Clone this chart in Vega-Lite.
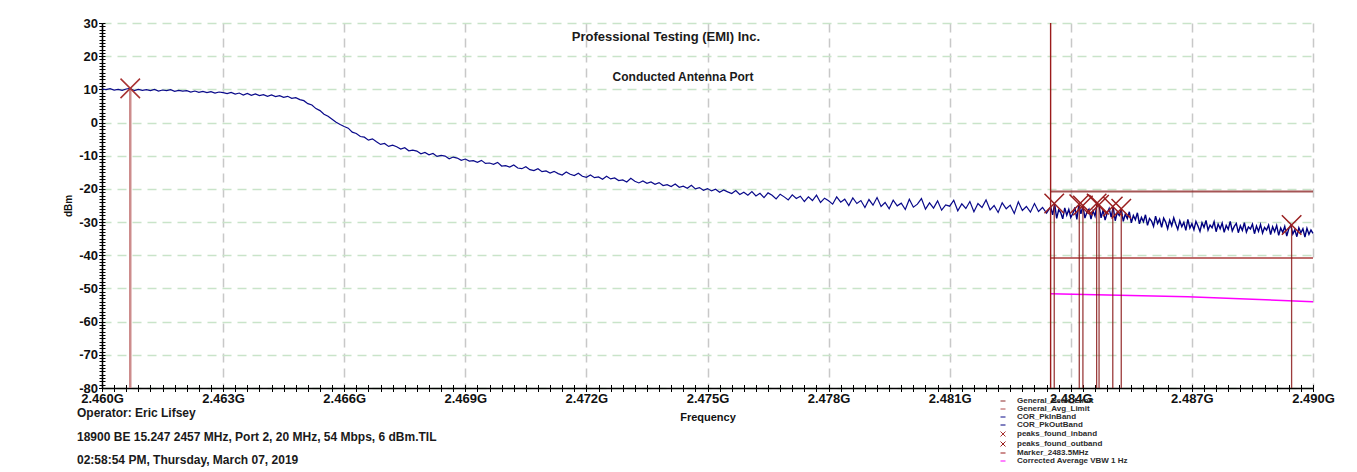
{
  "$schema": "https://vega.github.io/schema/vega-lite/v6.json",
  "width": 1211,
  "height": 365,
  "autosize": "none",
  "padding": {"left": 102, "top": 23, "right": 44, "bottom": 84},
  "background": "#ffffff",
  "config": {
    "view": {"stroke": null},
    "font": "Liberation Sans",
    "legend": {
      "orient": "none", "legendX": 897, "legendY": 374,
      "labelFont": "Liberation Sans", "labelFontSize": 8, "labelFontWeight": "bold", "labelColor": "#2b2b2b",
      "rowPadding": 0, "symbolSize": 25, "symbolStrokeWidth": 1, "labelOffset": 10, "padding": 0, "labelLimit": 300
    }
  },
  "datasets": {
    "inband": [
      {"f":2.4600,"v":10.1,"s":"COR_PkInBand"},{"f":2.4601,"v":9.9,"s":"COR_PkInBand"},{"f":2.4602,"v":10.2,"s":"COR_PkInBand"},{"f":2.4603,"v":9.8,"s":"COR_PkInBand"},{"f":2.4604,"v":10.0,"s":"COR_PkInBand"},
      {"f":2.4605,"v":9.7,"s":"COR_PkInBand"},{"f":2.4606,"v":10.1,"s":"COR_PkInBand"},{"f":2.4607,"v":10.3,"s":"COR_PkInBand"},{"f":2.4608,"v":9.6,"s":"COR_PkInBand"},{"f":2.4609,"v":10.0,"s":"COR_PkInBand"},
      {"f":2.4610,"v":9.7,"s":"COR_PkInBand"},{"f":2.4611,"v":9.9,"s":"COR_PkInBand"},{"f":2.4612,"v":9.6,"s":"COR_PkInBand"},{"f":2.4613,"v":10.0,"s":"COR_PkInBand"},{"f":2.4614,"v":9.5,"s":"COR_PkInBand"},
      {"f":2.4615,"v":9.8,"s":"COR_PkInBand"},{"f":2.4616,"v":9.6,"s":"COR_PkInBand"},{"f":2.4617,"v":9.9,"s":"COR_PkInBand"},{"f":2.4618,"v":9.4,"s":"COR_PkInBand"},{"f":2.4619,"v":9.7,"s":"COR_PkInBand"},
      {"f":2.4620,"v":9.5,"s":"COR_PkInBand"},{"f":2.4621,"v":9.6,"s":"COR_PkInBand"},{"f":2.4622,"v":9.2,"s":"COR_PkInBand"},{"f":2.4623,"v":9.5,"s":"COR_PkInBand"},{"f":2.4624,"v":9.1,"s":"COR_PkInBand"},
      {"f":2.4625,"v":9.4,"s":"COR_PkInBand"},{"f":2.4626,"v":9.0,"s":"COR_PkInBand"},{"f":2.4627,"v":9.3,"s":"COR_PkInBand"},{"f":2.4628,"v":8.9,"s":"COR_PkInBand"},{"f":2.4629,"v":9.2,"s":"COR_PkInBand"},
      {"f":2.4630,"v":9.0,"s":"COR_PkInBand"},{"f":2.4631,"v":8.7,"s":"COR_PkInBand"},{"f":2.4632,"v":9.1,"s":"COR_PkInBand"},{"f":2.4633,"v":8.6,"s":"COR_PkInBand"},{"f":2.4634,"v":8.9,"s":"COR_PkInBand"},
      {"f":2.4635,"v":8.3,"s":"COR_PkInBand"},{"f":2.4636,"v":8.8,"s":"COR_PkInBand"},{"f":2.4637,"v":8.2,"s":"COR_PkInBand"},{"f":2.4638,"v":8.6,"s":"COR_PkInBand"},{"f":2.4639,"v":8.1,"s":"COR_PkInBand"},
      {"f":2.4640,"v":8.4,"s":"COR_PkInBand"},{"f":2.4641,"v":7.9,"s":"COR_PkInBand"},{"f":2.4642,"v":8.3,"s":"COR_PkInBand"},{"f":2.4643,"v":7.8,"s":"COR_PkInBand"},{"f":2.4644,"v":8.1,"s":"COR_PkInBand"},
      {"f":2.4645,"v":7.6,"s":"COR_PkInBand"},{"f":2.4646,"v":7.9,"s":"COR_PkInBand"},{"f":2.4647,"v":7.3,"s":"COR_PkInBand"},{"f":2.4648,"v":7.5,"s":"COR_PkInBand"},{"f":2.4649,"v":6.9,"s":"COR_PkInBand"},
      {"f":2.4650,"v":6.6,"s":"COR_PkInBand"},{"f":2.4651,"v":5.7,"s":"COR_PkInBand"},{"f":2.4652,"v":5.3,"s":"COR_PkInBand"},{"f":2.4653,"v":4.2,"s":"COR_PkInBand"},{"f":2.4654,"v":3.6,"s":"COR_PkInBand"},
      {"f":2.4655,"v":2.5,"s":"COR_PkInBand"},{"f":2.4656,"v":1.9,"s":"COR_PkInBand"},{"f":2.4657,"v":1.0,"s":"COR_PkInBand"},{"f":2.4658,"v":0.1,"s":"COR_PkInBand"},{"f":2.4659,"v":-0.6,"s":"COR_PkInBand"},
      {"f":2.4660,"v":-1.2,"s":"COR_PkInBand"},{"f":2.4661,"v":-1.7,"s":"COR_PkInBand"},{"f":2.4662,"v":-2.9,"s":"COR_PkInBand"},{"f":2.4663,"v":-3.3,"s":"COR_PkInBand"},{"f":2.4664,"v":-4.2,"s":"COR_PkInBand"},
      {"f":2.4665,"v":-4.4,"s":"COR_PkInBand"},{"f":2.4666,"v":-5.3,"s":"COR_PkInBand"},{"f":2.4667,"v":-4.9,"s":"COR_PkInBand"},{"f":2.4668,"v":-5.8,"s":"COR_PkInBand"},{"f":2.4669,"v":-6.6,"s":"COR_PkInBand"},
      {"f":2.4670,"v":-6.3,"s":"COR_PkInBand"},{"f":2.4671,"v":-7.2,"s":"COR_PkInBand"},{"f":2.4672,"v":-6.8,"s":"COR_PkInBand"},{"f":2.4673,"v":-7.3,"s":"COR_PkInBand"},{"f":2.4674,"v":-8.0,"s":"COR_PkInBand"},
      {"f":2.4675,"v":-7.6,"s":"COR_PkInBand"},{"f":2.4676,"v":-8.5,"s":"COR_PkInBand"},{"f":2.4677,"v":-8.3,"s":"COR_PkInBand"},{"f":2.4678,"v":-8.6,"s":"COR_PkInBand"},{"f":2.4679,"v":-9.4,"s":"COR_PkInBand"},
      {"f":2.4680,"v":-9.0,"s":"COR_PkInBand"},{"f":2.4681,"v":-9.7,"s":"COR_PkInBand"},{"f":2.4682,"v":-9.3,"s":"COR_PkInBand"},{"f":2.4683,"v":-10.2,"s":"COR_PkInBand"},{"f":2.4684,"v":-9.9,"s":"COR_PkInBand"},
      {"f":2.4685,"v":-10.1,"s":"COR_PkInBand"},{"f":2.4686,"v":-10.9,"s":"COR_PkInBand"},{"f":2.4687,"v":-10.4,"s":"COR_PkInBand"},{"f":2.4688,"v":-10.7,"s":"COR_PkInBand"},{"f":2.4689,"v":-11.4,"s":"COR_PkInBand"},
      {"f":2.4690,"v":-11.0,"s":"COR_PkInBand"},{"f":2.4691,"v":-11.6,"s":"COR_PkInBand"},{"f":2.4692,"v":-11.5,"s":"COR_PkInBand"},{"f":2.4693,"v":-12.0,"s":"COR_PkInBand"},{"f":2.4694,"v":-11.4,"s":"COR_PkInBand"},
      {"f":2.4695,"v":-12.3,"s":"COR_PkInBand"},{"f":2.4696,"v":-12.2,"s":"COR_PkInBand"},{"f":2.4697,"v":-12.6,"s":"COR_PkInBand"},{"f":2.4698,"v":-12.0,"s":"COR_PkInBand"},{"f":2.4699,"v":-13.1,"s":"COR_PkInBand"},
      {"f":2.4700,"v":-13.0,"s":"COR_PkInBand"},{"f":2.4701,"v":-13.4,"s":"COR_PkInBand"},{"f":2.4702,"v":-12.8,"s":"COR_PkInBand"},{"f":2.4703,"v":-13.7,"s":"COR_PkInBand"},{"f":2.4704,"v":-13.9,"s":"COR_PkInBand"},
      {"f":2.4705,"v":-13.3,"s":"COR_PkInBand"},{"f":2.4706,"v":-14.2,"s":"COR_PkInBand"},{"f":2.4707,"v":-14.5,"s":"COR_PkInBand"},{"f":2.4708,"v":-13.9,"s":"COR_PkInBand"},{"f":2.4709,"v":-14.8,"s":"COR_PkInBand"},
      {"f":2.4710,"v":-14.6,"s":"COR_PkInBand"},{"f":2.4711,"v":-15.2,"s":"COR_PkInBand"},{"f":2.4712,"v":-14.7,"s":"COR_PkInBand"},{"f":2.4713,"v":-15.4,"s":"COR_PkInBand"},{"f":2.4714,"v":-15.8,"s":"COR_PkInBand"},
      {"f":2.4715,"v":-14.9,"s":"COR_PkInBand"},{"f":2.4716,"v":-15.6,"s":"COR_PkInBand"},{"f":2.4717,"v":-16.0,"s":"COR_PkInBand"},{"f":2.4718,"v":-15.3,"s":"COR_PkInBand"},{"f":2.4719,"v":-16.2,"s":"COR_PkInBand"},
      {"f":2.4720,"v":-16.5,"s":"COR_PkInBand"},{"f":2.4721,"v":-15.8,"s":"COR_PkInBand"},{"f":2.4722,"v":-16.6,"s":"COR_PkInBand"},{"f":2.4723,"v":-16.4,"s":"COR_PkInBand"},{"f":2.4724,"v":-17.1,"s":"COR_PkInBand"},
      {"f":2.4725,"v":-16.2,"s":"COR_PkInBand"},{"f":2.4726,"v":-17.0,"s":"COR_PkInBand"},{"f":2.4727,"v":-16.7,"s":"COR_PkInBand"},{"f":2.4728,"v":-17.5,"s":"COR_PkInBand"},{"f":2.4729,"v":-17.3,"s":"COR_PkInBand"},
      {"f":2.4730,"v":-17.9,"s":"COR_PkInBand"},{"f":2.4731,"v":-16.8,"s":"COR_PkInBand"},{"f":2.4732,"v":-17.7,"s":"COR_PkInBand"},{"f":2.4733,"v":-18.2,"s":"COR_PkInBand"},{"f":2.4734,"v":-17.6,"s":"COR_PkInBand"},
      {"f":2.4735,"v":-18.3,"s":"COR_PkInBand"},{"f":2.4736,"v":-17.9,"s":"COR_PkInBand"},{"f":2.4737,"v":-18.6,"s":"COR_PkInBand"},{"f":2.4738,"v":-18.1,"s":"COR_PkInBand"},{"f":2.4739,"v":-19.0,"s":"COR_PkInBand"},
      {"f":2.4740,"v":-18.7,"s":"COR_PkInBand"},{"f":2.4741,"v":-19.3,"s":"COR_PkInBand"},{"f":2.4742,"v":-18.5,"s":"COR_PkInBand"},{"f":2.4743,"v":-19.5,"s":"COR_PkInBand"},{"f":2.4744,"v":-19.2,"s":"COR_PkInBand"},
      {"f":2.4745,"v":-19.8,"s":"COR_PkInBand"},{"f":2.4746,"v":-18.9,"s":"COR_PkInBand"},{"f":2.4747,"v":-20.0,"s":"COR_PkInBand"},{"f":2.4748,"v":-19.6,"s":"COR_PkInBand"},{"f":2.4749,"v":-20.4,"s":"COR_PkInBand"},
      {"f":2.4750,"v":-19.9,"s":"COR_PkInBand"},{"f":2.4751,"v":-20.6,"s":"COR_PkInBand"},{"f":2.4752,"v":-20.1,"s":"COR_PkInBand"},{"f":2.4753,"v":-21.0,"s":"COR_PkInBand"},{"f":2.4754,"v":-20.3,"s":"COR_PkInBand"},
      {"f":2.4755,"v":-20.9,"s":"COR_PkInBand"},{"f":2.4756,"v":-21.4,"s":"COR_PkInBand"},{"f":2.4757,"v":-20.5,"s":"COR_PkInBand"},{"f":2.4758,"v":-21.7,"s":"COR_PkInBand"},{"f":2.4759,"v":-21.0,"s":"COR_PkInBand"},
      {"f":2.4760,"v":-21.9,"s":"COR_PkInBand"},{"f":2.4761,"v":-20.8,"s":"COR_PkInBand"},{"f":2.4762,"v":-22.1,"s":"COR_PkInBand"},{"f":2.4763,"v":-21.3,"s":"COR_PkInBand"},{"f":2.4764,"v":-22.6,"s":"COR_PkInBand"},
      {"f":2.4765,"v":-21.2,"s":"COR_PkInBand"},{"f":2.4766,"v":-21.9,"s":"COR_PkInBand"},{"f":2.4767,"v":-23.0,"s":"COR_PkInBand"},{"f":2.4768,"v":-21.6,"s":"COR_PkInBand"},{"f":2.4769,"v":-22.4,"s":"COR_PkInBand"},
      {"f":2.4770,"v":-23.3,"s":"COR_PkInBand"},{"f":2.4771,"v":-21.8,"s":"COR_PkInBand"},{"f":2.4772,"v":-22.9,"s":"COR_PkInBand"},{"f":2.4773,"v":-22.2,"s":"COR_PkInBand"},{"f":2.4774,"v":-23.8,"s":"COR_PkInBand"},
      {"f":2.4775,"v":-22.4,"s":"COR_PkInBand"},{"f":2.4776,"v":-23.5,"s":"COR_PkInBand"},{"f":2.4777,"v":-21.9,"s":"COR_PkInBand"},{"f":2.4778,"v":-24.1,"s":"COR_PkInBand"},{"f":2.4779,"v":-22.8,"s":"COR_PkInBand"},
      {"f":2.4780,"v":-23.6,"s":"COR_PkInBand"},{"f":2.4781,"v":-24.6,"s":"COR_PkInBand"},{"f":2.4782,"v":-22.4,"s":"COR_PkInBand"},{"f":2.4783,"v":-24.0,"s":"COR_PkInBand"},{"f":2.4784,"v":-23.1,"s":"COR_PkInBand"},
      {"f":2.4785,"v":-25.0,"s":"COR_PkInBand"},{"f":2.4786,"v":-22.7,"s":"COR_PkInBand"},{"f":2.4787,"v":-24.4,"s":"COR_PkInBand"},{"f":2.4788,"v":-23.5,"s":"COR_PkInBand"},{"f":2.4789,"v":-25.6,"s":"COR_PkInBand"},
      {"f":2.4790,"v":-23.2,"s":"COR_PkInBand"},{"f":2.4791,"v":-24.9,"s":"COR_PkInBand"},{"f":2.4792,"v":-22.6,"s":"COR_PkInBand"},{"f":2.4793,"v":-25.3,"s":"COR_PkInBand"},{"f":2.4794,"v":-24.1,"s":"COR_PkInBand"},
      {"f":2.4795,"v":-26.0,"s":"COR_PkInBand"},{"f":2.4796,"v":-23.4,"s":"COR_PkInBand"},{"f":2.4797,"v":-25.1,"s":"COR_PkInBand"},{"f":2.4798,"v":-24.3,"s":"COR_PkInBand"},{"f":2.4799,"v":-26.2,"s":"COR_PkInBand"},
      {"f":2.4800,"v":-23.1,"s":"COR_PkInBand"},{"f":2.4801,"v":-25.5,"s":"COR_PkInBand"},{"f":2.4802,"v":-24.6,"s":"COR_PkInBand"},{"f":2.4803,"v":-22.9,"s":"COR_PkInBand"},{"f":2.4804,"v":-26.1,"s":"COR_PkInBand"},
      {"f":2.4805,"v":-24.2,"s":"COR_PkInBand"},{"f":2.4806,"v":-25.8,"s":"COR_PkInBand"},{"f":2.4807,"v":-23.6,"s":"COR_PkInBand"},{"f":2.4808,"v":-26.4,"s":"COR_PkInBand"},{"f":2.4809,"v":-24.8,"s":"COR_PkInBand"},
      {"f":2.4810,"v":-25.2,"s":"COR_PkInBand"},{"f":2.4811,"v":-23.4,"s":"COR_PkInBand"},{"f":2.4812,"v":-26.6,"s":"COR_PkInBand"},{"f":2.4813,"v":-24.5,"s":"COR_PkInBand"},{"f":2.4814,"v":-25.9,"s":"COR_PkInBand"},
      {"f":2.4815,"v":-23.8,"s":"COR_PkInBand"},{"f":2.4816,"v":-26.9,"s":"COR_PkInBand"},{"f":2.4817,"v":-24.4,"s":"COR_PkInBand"},{"f":2.4818,"v":-25.6,"s":"COR_PkInBand"},{"f":2.4819,"v":-23.3,"s":"COR_PkInBand"},
      {"f":2.4820,"v":-26.3,"s":"COR_PkInBand"},{"f":2.4821,"v":-25.0,"s":"COR_PkInBand"},{"f":2.4822,"v":-27.1,"s":"COR_PkInBand"},{"f":2.4823,"v":-24.2,"s":"COR_PkInBand"},{"f":2.4824,"v":-26.0,"s":"COR_PkInBand"},
      {"f":2.4825,"v":-24.9,"s":"COR_PkInBand"},{"f":2.4826,"v":-27.4,"s":"COR_PkInBand"},{"f":2.4827,"v":-23.9,"s":"COR_PkInBand"},{"f":2.4828,"v":-26.5,"s":"COR_PkInBand"},{"f":2.4829,"v":-25.3,"s":"COR_PkInBand"},
      {"f":2.4830,"v":-27.0,"s":"COR_PkInBand"},{"f":2.4831,"v":-24.4,"s":"COR_PkInBand"},{"f":2.4832,"v":-26.8,"s":"COR_PkInBand"},{"f":2.4833,"v":-25.6,"s":"COR_PkInBand"},{"f":2.4834,"v":-27.3,"s":"COR_PkInBand"},
      {"f":2.4835,"v":-25.4,"s":"COR_PkInBand"}
    ],
    "outband": [
      {"f":2.48350,"v":-25.4,"s":"COR_PkOutBand"},{"f":2.48355,"v":-27.8,"s":"COR_PkOutBand"},{"f":2.48360,"v":-24.5,"s":"COR_PkOutBand"},{"f":2.48365,"v":-28.9,"s":"COR_PkOutBand"},{"f":2.48370,"v":-26.3,"s":"COR_PkOutBand"},
      {"f":2.48375,"v":-27.1,"s":"COR_PkOutBand"},{"f":2.48380,"v":-29.0,"s":"COR_PkOutBand"},{"f":2.48385,"v":-25.7,"s":"COR_PkOutBand"},{"f":2.48390,"v":-27.9,"s":"COR_PkOutBand"},{"f":2.48395,"v":-26.2,"s":"COR_PkOutBand"},
      {"f":2.48400,"v":-28.6,"s":"COR_PkOutBand"},{"f":2.48405,"v":-27.4,"s":"COR_PkOutBand"},{"f":2.48410,"v":-25.6,"s":"COR_PkOutBand"},{"f":2.48415,"v":-29.2,"s":"COR_PkOutBand"},{"f":2.48420,"v":-24.7,"s":"COR_PkOutBand"},
      {"f":2.48425,"v":-27.5,"s":"COR_PkOutBand"},{"f":2.48430,"v":-25.1,"s":"COR_PkOutBand"},{"f":2.48435,"v":-28.8,"s":"COR_PkOutBand"},{"f":2.48440,"v":-27.0,"s":"COR_PkOutBand"},{"f":2.48445,"v":-26.1,"s":"COR_PkOutBand"},
      {"f":2.48450,"v":-29.1,"s":"COR_PkOutBand"},{"f":2.48455,"v":-26.6,"s":"COR_PkOutBand"},{"f":2.48460,"v":-28.2,"s":"COR_PkOutBand"},{"f":2.48465,"v":-24.5,"s":"COR_PkOutBand"},{"f":2.48470,"v":-24.9,"s":"COR_PkOutBand"},
      {"f":2.48475,"v":-28.7,"s":"COR_PkOutBand"},{"f":2.48480,"v":-26.4,"s":"COR_PkOutBand"},{"f":2.48485,"v":-29.4,"s":"COR_PkOutBand"},{"f":2.48490,"v":-27.3,"s":"COR_PkOutBand"},{"f":2.48495,"v":-25.9,"s":"COR_PkOutBand"},
      {"f":2.48500,"v":-28.5,"s":"COR_PkOutBand"},{"f":2.48505,"v":-25.4,"s":"COR_PkOutBand"},{"f":2.48510,"v":-29.6,"s":"COR_PkOutBand"},{"f":2.48515,"v":-27.1,"s":"COR_PkOutBand"},{"f":2.48520,"v":-28.0,"s":"COR_PkOutBand"},
      {"f":2.48525,"v":-26.1,"s":"COR_PkOutBand"},{"f":2.48530,"v":-29.8,"s":"COR_PkOutBand"},{"f":2.48535,"v":-27.6,"s":"COR_PkOutBand"},{"f":2.48540,"v":-28.9,"s":"COR_PkOutBand"},{"f":2.48545,"v":-26.9,"s":"COR_PkOutBand"},
      {"f":2.48550,"v":-30.2,"s":"COR_PkOutBand"},{"f":2.48555,"v":-28.0,"s":"COR_PkOutBand"},{"f":2.48560,"v":-29.3,"s":"COR_PkOutBand"},{"f":2.48565,"v":-27.2,"s":"COR_PkOutBand"},{"f":2.48570,"v":-30.5,"s":"COR_PkOutBand"},
      {"f":2.48575,"v":-28.6,"s":"COR_PkOutBand"},{"f":2.48580,"v":-29.9,"s":"COR_PkOutBand"},{"f":2.48585,"v":-27.8,"s":"COR_PkOutBand"},{"f":2.48590,"v":-31.0,"s":"COR_PkOutBand"},{"f":2.48595,"v":-28.9,"s":"COR_PkOutBand"},
      {"f":2.48600,"v":-29.7,"s":"COR_PkOutBand"},{"f":2.48605,"v":-31.3,"s":"COR_PkOutBand"},{"f":2.48610,"v":-28.2,"s":"COR_PkOutBand"},{"f":2.48615,"v":-30.4,"s":"COR_PkOutBand"},{"f":2.48620,"v":-29.1,"s":"COR_PkOutBand"},
      {"f":2.48625,"v":-31.6,"s":"COR_PkOutBand"},{"f":2.48630,"v":-28.8,"s":"COR_PkOutBand"},{"f":2.48635,"v":-30.0,"s":"COR_PkOutBand"},{"f":2.48640,"v":-32.0,"s":"COR_PkOutBand"},{"f":2.48645,"v":-29.4,"s":"COR_PkOutBand"},
      {"f":2.48650,"v":-31.1,"s":"COR_PkOutBand"},{"f":2.48655,"v":-28.7,"s":"COR_PkOutBand"},{"f":2.48660,"v":-30.6,"s":"COR_PkOutBand"},{"f":2.48665,"v":-32.2,"s":"COR_PkOutBand"},{"f":2.48670,"v":-29.6,"s":"COR_PkOutBand"},
      {"f":2.48675,"v":-31.4,"s":"COR_PkOutBand"},{"f":2.48680,"v":-30.1,"s":"COR_PkOutBand"},{"f":2.48685,"v":-32.5,"s":"COR_PkOutBand"},{"f":2.48690,"v":-29.2,"s":"COR_PkOutBand"},{"f":2.48695,"v":-31.8,"s":"COR_PkOutBand"},
      {"f":2.48700,"v":-30.5,"s":"COR_PkOutBand"},{"f":2.48705,"v":-32.3,"s":"COR_PkOutBand"},{"f":2.48710,"v":-29.8,"s":"COR_PkOutBand"},{"f":2.48715,"v":-31.2,"s":"COR_PkOutBand"},{"f":2.48720,"v":-32.8,"s":"COR_PkOutBand"},
      {"f":2.48725,"v":-30.2,"s":"COR_PkOutBand"},{"f":2.48730,"v":-31.6,"s":"COR_PkOutBand"},{"f":2.48735,"v":-29.5,"s":"COR_PkOutBand"},{"f":2.48740,"v":-32.4,"s":"COR_PkOutBand"},{"f":2.48745,"v":-30.9,"s":"COR_PkOutBand"},
      {"f":2.48750,"v":-31.7,"s":"COR_PkOutBand"},{"f":2.48755,"v":-29.9,"s":"COR_PkOutBand"},{"f":2.48760,"v":-32.9,"s":"COR_PkOutBand"},{"f":2.48765,"v":-30.6,"s":"COR_PkOutBand"},{"f":2.48770,"v":-32.0,"s":"COR_PkOutBand"},
      {"f":2.48775,"v":-30.3,"s":"COR_PkOutBand"},{"f":2.48780,"v":-33.1,"s":"COR_PkOutBand"},{"f":2.48785,"v":-31.0,"s":"COR_PkOutBand"},{"f":2.48790,"v":-32.2,"s":"COR_PkOutBand"},{"f":2.48795,"v":-29.8,"s":"COR_PkOutBand"},
      {"f":2.48800,"v":-32.7,"s":"COR_PkOutBand"},{"f":2.48805,"v":-31.3,"s":"COR_PkOutBand"},{"f":2.48810,"v":-30.4,"s":"COR_PkOutBand"},{"f":2.48815,"v":-33.2,"s":"COR_PkOutBand"},{"f":2.48820,"v":-31.1,"s":"COR_PkOutBand"},
      {"f":2.48825,"v":-32.5,"s":"COR_PkOutBand"},{"f":2.48830,"v":-30.2,"s":"COR_PkOutBand"},{"f":2.48835,"v":-33.0,"s":"COR_PkOutBand"},{"f":2.48840,"v":-31.5,"s":"COR_PkOutBand"},{"f":2.48845,"v":-32.1,"s":"COR_PkOutBand"},
      {"f":2.48850,"v":-30.6,"s":"COR_PkOutBand"},{"f":2.48855,"v":-33.5,"s":"COR_PkOutBand"},{"f":2.48860,"v":-31.2,"s":"COR_PkOutBand"},{"f":2.48865,"v":-32.8,"s":"COR_PkOutBand"},{"f":2.48870,"v":-30.7,"s":"COR_PkOutBand"},
      {"f":2.48875,"v":-33.3,"s":"COR_PkOutBand"},{"f":2.48880,"v":-31.6,"s":"COR_PkOutBand"},{"f":2.48885,"v":-32.4,"s":"COR_PkOutBand"},{"f":2.48890,"v":-30.9,"s":"COR_PkOutBand"},{"f":2.48895,"v":-33.8,"s":"COR_PkOutBand"},
      {"f":2.48900,"v":-31.4,"s":"COR_PkOutBand"},{"f":2.48905,"v":-32.9,"s":"COR_PkOutBand"},{"f":2.48910,"v":-31.0,"s":"COR_PkOutBand"},{"f":2.48915,"v":-34.0,"s":"COR_PkOutBand"},{"f":2.48920,"v":-31.8,"s":"COR_PkOutBand"},
      {"f":2.48925,"v":-33.1,"s":"COR_PkOutBand"},{"f":2.48930,"v":-31.3,"s":"COR_PkOutBand"},{"f":2.48935,"v":-34.2,"s":"COR_PkOutBand"},{"f":2.48940,"v":-32.0,"s":"COR_PkOutBand"},{"f":2.48945,"v":-30.9,"s":"COR_PkOutBand"},
      {"f":2.48950,"v":-33.6,"s":"COR_PkOutBand"},{"f":2.48955,"v":-32.3,"s":"COR_PkOutBand"},{"f":2.48960,"v":-34.4,"s":"COR_PkOutBand"},{"f":2.48965,"v":-31.7,"s":"COR_PkOutBand"},{"f":2.48970,"v":-33.2,"s":"COR_PkOutBand"},
      {"f":2.48975,"v":-32.0,"s":"COR_PkOutBand"},{"f":2.48980,"v":-34.5,"s":"COR_PkOutBand"},{"f":2.48985,"v":-31.9,"s":"COR_PkOutBand"},{"f":2.48990,"v":-33.7,"s":"COR_PkOutBand"},{"f":2.48995,"v":-32.4,"s":"COR_PkOutBand"},
      {"f":2.49000,"v":-33.4,"s":"COR_PkOutBand"}
    ],
    "limits": [
      {"f":2.4835,"v":-20.8,"s":"General_Peak_Limit"},{"f":2.49,"v":-20.8,"s":"General_Peak_Limit"},
      {"f":2.4835,"v":-40.8,"s":"General_Avg_Limit"},{"f":2.49,"v":-40.8,"s":"General_Avg_Limit"}
    ],
    "avg": [
      {"f":2.4835,"v":-51.6,"s":"Corrected Average VBW 1 Hz"},{"f":2.4869,"v":-52.5,"s":"Corrected Average VBW 1 Hz"},{"f":2.49,"v":-54.0,"s":"Corrected Average VBW 1 Hz"}
    ],
    "marker": [{"f":2.4835,"s":"Marker_2483.5MHz"}],
    "peaks": [
      {"f":2.4607,"v":10.3,"s":"peaks_found_inband"},
      {"f":2.48359,"v":-24.4,"s":"peaks_found_outband"},
      {"f":2.48421,"v":-24.6,"s":"peaks_found_outband"},
      {"f":2.4843,"v":-25.0,"s":"peaks_found_outband"},
      {"f":2.48464,"v":-24.4,"s":"peaks_found_outband"},
      {"f":2.4847,"v":-24.8,"s":"peaks_found_outband"},
      {"f":2.48504,"v":-25.3,"s":"peaks_found_outband"},
      {"f":2.48525,"v":-26.0,"s":"peaks_found_outband"},
      {"f":2.48947,"v":-30.9,"s":"peaks_found_outband"}
    ]
  },
  "layer": [
    {
      "data": {"name": "inband"},
      "mark": {"type": "line", "strokeWidth": 1.2},
      "encoding": {
        "x": {"field": "f", "type": "quantitative",
          "scale": {"domain": [2.46, 2.49], "nice": false, "zero": false},
          "axis": {"orient": "bottom", "values": [2.46,2.463,2.466,2.469,2.472,2.475,2.478,2.481,2.484,2.487,2.49],
            "labelExpr": "format(datum.value, '.3f') + 'G'", "labelFlush": false, "labelOverlap": false,
            "labelFont": "Liberation Sans", "labelFontSize": 13, "labelFontWeight": "bold", "labelColor": "#111111", "labelPadding": 1,
            "tickSize": 3.5, "tickColor": "#000000", "domainColor": "#000000", "domainWidth": 1.5,
            "grid": true, "gridColor": "#c8c8c8", "gridDash": [9, 6], "gridWidth": 1.5,
            "title": "Frequency", "titleFont": "Liberation Sans", "titleFontSize": 11, "titleFontWeight": "bold", "titleColor": "#111111", "titlePadding": 6}},
        "y": {"field": "v", "type": "quantitative",
          "scale": {"domain": [-80, 30], "nice": false, "zero": false},
          "axis": {"orient": "left", "values": [-80,-70,-60,-50,-40,-30,-20,-10,0,10,20,30],
            "labelExpr": "'' + datum.value", "labelOverlap": false,
            "labelFont": "Liberation Sans", "labelFontSize": 13, "labelFontWeight": "bold", "labelColor": "#111111", "labelPadding": 1,
            "tickSize": 3.5, "tickColor": "#000000", "domainColor": "#000000", "domainWidth": 1.5,
            "grid": true, "gridColor": "#c9e4c9", "gridDash": [9, 6], "gridWidth": 1.5,
            "title": "dBm", "titleFont": "Liberation Sans", "titleFontSize": 10, "titleFontWeight": "bold", "titleColor": "#111111", "titlePadding": 5}},
        "color": {"field": "s", "type": "nominal",
          "scale": {"domain": ["General_Peak_Limit","General_Avg_Limit","COR_PkInBand","COR_PkOutBand","peaks_found_inband","peaks_found_outband","Marker_2483.5MHz","Corrected Average VBW 1 Hz"],
                    "range": ["#8e2a2a","#b04a4a","#0a0a8a","#000080","#a83232","#9a1f1f","#9b1b1b","#ff00ff"]},
          "legend": {"title": null, "encode": {"symbols": {"update": {"stroke": {"signal": "datum.value === 'COR_PkInBand' ? '#8a8ad6' : scale('color', datum.value)"}, "fill": {"value": "transparent"}, "strokeWidth": {"value": 1}}}}}}
      }
    },
    {
      "data": {"name": "outband"},
      "mark": {"type": "line", "strokeWidth": 1.4},
      "encoding": {
        "x": {"field": "f", "type": "quantitative", "axis": null},
        "y": {"field": "v", "type": "quantitative", "axis": null},
        "color": {"field": "s", "type": "nominal",
          "scale": {"domain": ["General_Peak_Limit","General_Avg_Limit","COR_PkInBand","COR_PkOutBand","peaks_found_inband","peaks_found_outband","Marker_2483.5MHz","Corrected Average VBW 1 Hz"]},
          "legend": {"title": null}}
      }
    },
    {
      "data": {"name": "limits"},
      "mark": {"type": "line", "strokeWidth": 2, "opacity": 0.8},
      "encoding": {
        "x": {"field": "f", "type": "quantitative",
          "axis": {"orient": "bottom", "values": [2.46,2.4603,2.4606,2.4609,2.4612,2.4615,2.4618,2.4621,2.4624,2.4627,2.463,2.4633,2.4636,2.4639,2.4642,2.4645,2.4648,2.4651,2.4654,2.4657,2.466,2.4663,2.4666,2.4669,2.4672,2.4675,2.4678,2.4681,2.4684,2.4687,2.469,2.4693,2.4696,2.4699,2.4702,2.4705,2.4708,2.4711,2.4714,2.4717,2.472,2.4723,2.4726,2.4729,2.4732,2.4735,2.4738,2.4741,2.4744,2.4747,2.475,2.4753,2.4756,2.4759,2.4762,2.4765,2.4768,2.4771,2.4774,2.4777,2.478,2.4783,2.4786,2.4789,2.4792,2.4795,2.4798,2.4801,2.4804,2.4807,2.481,2.4813,2.4816,2.4819,2.4822,2.4825,2.4828,2.4831,2.4834,2.4837,2.484,2.4843,2.4846,2.4849,2.4852,2.4855,2.4858,2.4861,2.4864,2.4867,2.487,2.4873,2.4876,2.4879,2.4882,2.4885,2.4888,2.4891,2.4894,2.4897,2.49],
            "tickSize": 3.5, "tickColor": "#000000", "labels": false, "domain": false, "grid": false, "title": null}},
        "y": {"field": "v", "type": "quantitative",
          "axis": {"orient": "left", "tickCount": 110, "tickSize": 3, "tickColor": "#000000", "labels": false, "domain": false, "grid": false, "title": null}},
        "color": {"field": "s", "type": "nominal",
          "scale": {"domain": ["General_Peak_Limit","General_Avg_Limit","COR_PkInBand","COR_PkOutBand","peaks_found_inband","peaks_found_outband","Marker_2483.5MHz","Corrected Average VBW 1 Hz"]},
          "legend": {"title": null}}
      }
    },
    {
      "data": {"name": "avg"},
      "mark": {"type": "line", "strokeWidth": 1.5},
      "encoding": {
        "x": {"field": "f", "type": "quantitative",
          "axis": {"orient": "bottom", "values": [2.46,2.4603,2.4606,2.4609,2.4612,2.4615,2.4618,2.4621,2.4624,2.4627,2.463,2.4633,2.4636,2.4639,2.4642,2.4645,2.4648,2.4651,2.4654,2.4657,2.466,2.4663,2.4666,2.4669,2.4672,2.4675,2.4678,2.4681,2.4684,2.4687,2.469,2.4693,2.4696,2.4699,2.4702,2.4705,2.4708,2.4711,2.4714,2.4717,2.472,2.4723,2.4726,2.4729,2.4732,2.4735,2.4738,2.4741,2.4744,2.4747,2.475,2.4753,2.4756,2.4759,2.4762,2.4765,2.4768,2.4771,2.4774,2.4777,2.478,2.4783,2.4786,2.4789,2.4792,2.4795,2.4798,2.4801,2.4804,2.4807,2.481,2.4813,2.4816,2.4819,2.4822,2.4825,2.4828,2.4831,2.4834,2.4837,2.484,2.4843,2.4846,2.4849,2.4852,2.4855,2.4858,2.4861,2.4864,2.4867,2.487,2.4873,2.4876,2.4879,2.4882,2.4885,2.4888,2.4891,2.4894,2.4897,2.49],
            "tickSize": -3.5, "tickColor": "#000000", "labels": false, "domain": false, "grid": false, "title": null}},
        "y": {"field": "v", "type": "quantitative",
          "axis": {"orient": "left", "tickCount": 110, "tickSize": -3, "tickColor": "#000000", "labels": false, "domain": false, "grid": false, "title": null}},
        "color": {"field": "s", "type": "nominal",
          "scale": {"domain": ["General_Peak_Limit","General_Avg_Limit","COR_PkInBand","COR_PkOutBand","peaks_found_inband","peaks_found_outband","Marker_2483.5MHz","Corrected Average VBW 1 Hz"]},
          "legend": {"title": null}}
      }
    },
    {
      "data": {"name": "marker"},
      "mark": {"type": "rule", "strokeWidth": 1.4},
      "encoding": {
        "x": {"field": "f", "type": "quantitative", "axis": null},
        "color": {"field": "s", "type": "nominal",
          "scale": {"domain": ["General_Peak_Limit","General_Avg_Limit","COR_PkInBand","COR_PkOutBand","peaks_found_inband","peaks_found_outband","Marker_2483.5MHz","Corrected Average VBW 1 Hz"]},
          "legend": {"title": null}}
      }
    },
    {
      "data": {"name": "peaks"},
      "mark": {"type": "rule", "opacity": 0.85},
      "encoding": {
        "x": {"field": "f", "type": "quantitative", "axis": null},
        "y": {"field": "v", "type": "quantitative", "axis": null},
        "y2": {"datum": -80},
        "stroke": {"condition": {"test": "datum.s === 'peaks_found_inband'", "value": "#c47878"}, "value": "#8b1a1a"},
        "strokeWidth": {"condition": {"test": "datum.s === 'peaks_found_inband'", "value": 2.5}, "value": 1.3}
      }
    },
    {
      "data": {"name": "peaks"},
      "mark": {"type": "point", "filled": false, "size": 380, "strokeWidth": 1.5, "opacity": 1},
      "encoding": {
        "x": {"field": "f", "type": "quantitative", "axis": null},
        "y": {"field": "v", "type": "quantitative", "axis": null},
        "color": {"field": "s", "type": "nominal",
          "scale": {"domain": ["General_Peak_Limit","General_Avg_Limit","COR_PkInBand","COR_PkOutBand","peaks_found_inband","peaks_found_outband","Marker_2483.5MHz","Corrected Average VBW 1 Hz"]},
          "legend": {"title": null}},
        "shape": {"field": "s", "type": "nominal",
          "scale": {"domain": ["General_Peak_Limit","General_Avg_Limit","COR_PkInBand","COR_PkOutBand","peaks_found_inband","peaks_found_outband","Marker_2483.5MHz","Corrected Average VBW 1 Hz"],
                    "range": ["stroke","stroke","stroke","stroke","M-1,-1L1,1M-1,1L1,-1","M-1,-1L1,1M-1,1L1,-1","stroke","stroke"]},
          "legend": {"title": null}}
      }
    },
    {
      "data": {"values": [{}]},
      "mark": {"type": "text", "text": "Professional Testing (EMI) Inc.", "font": "Liberation Sans", "fontSize": 13, "fontWeight": "bold", "align": "center", "baseline": "middle", "color": "#1a1a1a"},
      "encoding": {
        "x": {"datum": 2.47397, "type": "quantitative", "axis": null},
        "y": {"datum": 25.78, "type": "quantitative", "axis": null}
      }
    },
    {
      "data": {"values": [{}]},
      "mark": {"type": "text", "text": "Conducted Antenna Port", "font": "Liberation Sans", "fontSize": 12, "fontWeight": "bold", "align": "center", "baseline": "middle", "color": "#1a1a1a"},
      "encoding": {
        "x": {"datum": 2.474393, "type": "quantitative", "axis": null},
        "y": {"datum": 13.73, "type": "quantitative", "axis": null}
      }
    },
    {
      "data": {"values": [{}]},
      "mark": {"type": "text", "text": ["Operator: Eric Lifsey", "18900 BE 15.247 2457 MHz, Port 2, 20 MHz, 54 Mbps, 6 dBm.TIL", "02:58:54 PM, Thursday, March 07, 2019"],
        "lineHeight": 23.5, "font": "Liberation Sans", "fontSize": 12, "fontWeight": "bold", "align": "left", "baseline": "top", "color": "#1a1a1a"},
      "encoding": {
        "x": {"datum": 2.459381, "type": "quantitative", "axis": null},
        "y": {"datum": -86.1, "type": "quantitative", "axis": null}
      }
    }
  ],
  "resolve": {"axis": {"x": "independent", "y": "independent"}}
}
